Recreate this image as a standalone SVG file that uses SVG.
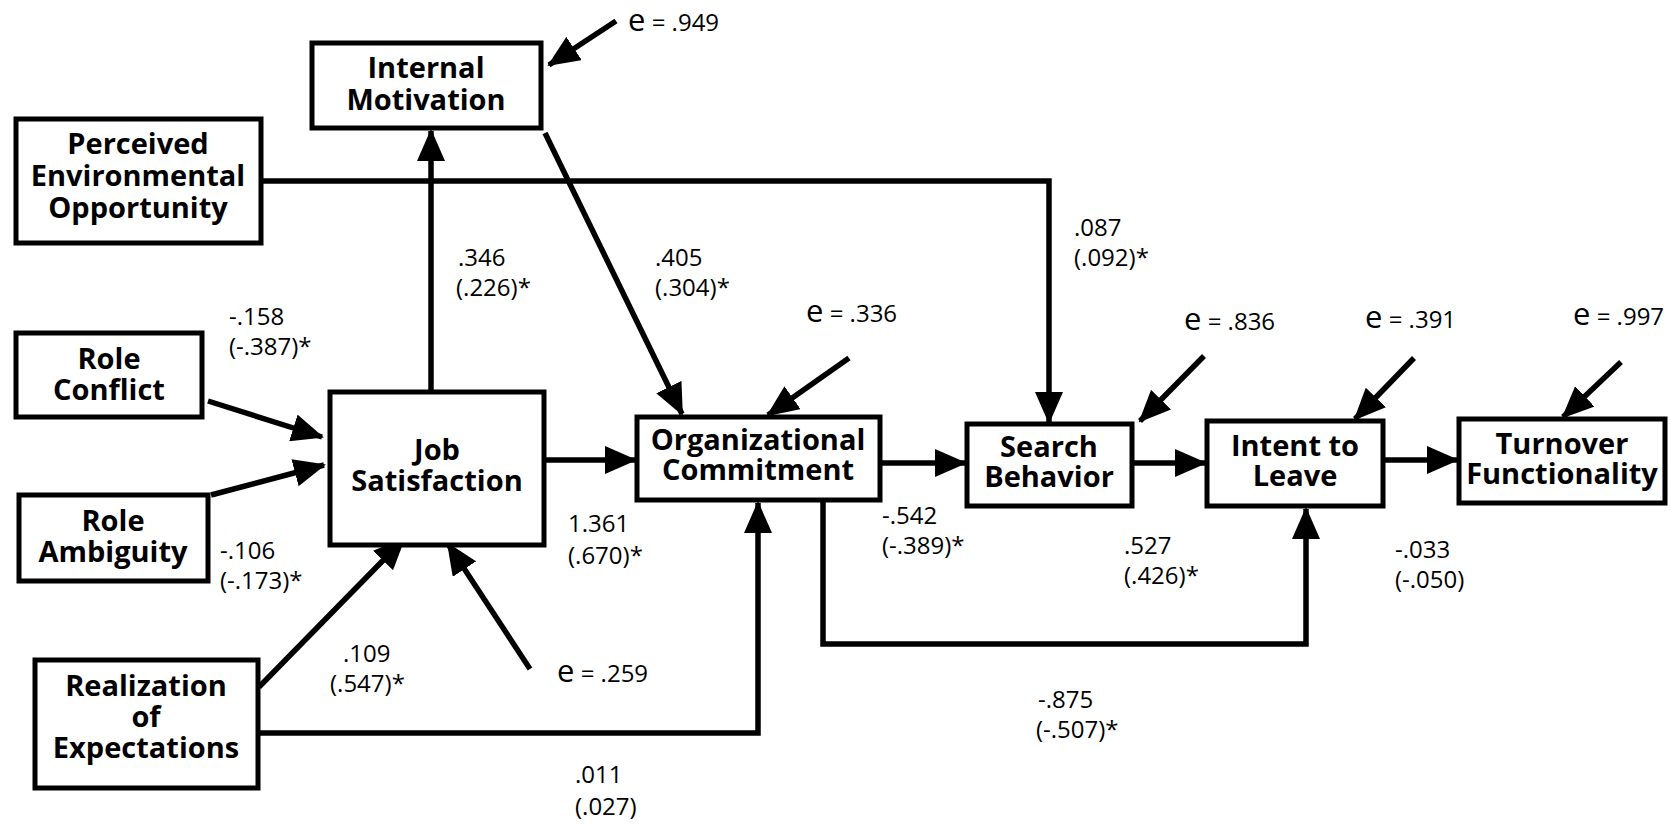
<svg xmlns="http://www.w3.org/2000/svg" width="1670" height="826" viewBox="0 0 1670 826">
<style>
.box{fill:#fff;stroke:#000;stroke-width:5}
.nt{font-family:"Open Sans","Noto Sans",sans-serif;font-weight:bold;font-size:29px;text-anchor:middle;fill:#000}
.lb{font-family:"Open Sans","Noto Sans",sans-serif;font-size:24px;fill:#000}
.eb{font-size:31px}
.cn{fill:none;stroke:#000;stroke-width:5.5;marker-end:url(#ah)}
</style>
<defs>
<marker id="ah" markerUnits="userSpaceOnUse" markerWidth="32" markerHeight="28" refX="30" refY="14" orient="auto">
<path d="M0,0 L32,14 L0,28 z" fill="#000"/>
</marker>
</defs>
<rect width="1670" height="826" fill="#fff"/>
<g id="connectors">
<path class="cn" d="M261,181 H1049 V422"/>
<path class="cn" d="M431,392 V131"/>
<path class="cn" d="M545,133 L682,414"/>
<path class="cn" d="M616,21 L549,65"/>
<path class="cn" d="M208,401 L322,437"/>
<path class="cn" d="M211,495 L324,465"/>
<path class="cn" d="M259,687 L404,539"/>
<path class="cn" d="M530,669 L448,544"/>
<path class="cn" d="M544,460 L635,460"/>
<path class="cn" d="M258,733 H758 V503"/>
<path class="cn" d="M880,463 L965,463"/>
<path class="cn" d="M1132,463 L1205,463"/>
<path class="cn" d="M1383,460 L1457,460"/>
<path class="cn" d="M823,500 V644 H1306 V509"/>
<path class="cn" d="M849,358 L768,415"/>
<path class="cn" d="M1204,356 L1140,421"/>
<path class="cn" d="M1414,358 L1355,419"/>
<path class="cn" d="M1621,362 L1563,417"/>
</g>
<g id="internal-motivation"><rect class="box" x="312" y="43" width="229" height="85"/><text class="nt"><tspan x="426" y="78">Internal</tspan><tspan x="426" y="110">Motivation</tspan></text></g>
<g id="perceived-env"><rect class="box" x="16" y="119" width="245" height="124"/><text class="nt"><tspan x="138" y="154">Perceived</tspan><tspan x="138" y="186">Environmental</tspan><tspan x="138" y="218">Opportunity</tspan></text></g>
<g id="role-conflict"><rect class="box" x="16" y="333" width="186" height="84"/><text class="nt"><tspan x="109" y="369">Role</tspan><tspan x="109" y="400">Conflict</tspan></text></g>
<g id="role-ambiguity"><rect class="box" x="19" y="495" width="189" height="86"/><text class="nt"><tspan x="113" y="531">Role</tspan><tspan x="113" y="562">Ambiguity</tspan></text></g>
<g id="realization"><rect class="box" x="35" y="660" width="223" height="128"/><text class="nt"><tspan x="146" y="696">Realization</tspan><tspan x="146" y="727">of</tspan><tspan x="146" y="758">Expectations</tspan></text></g>
<g id="job-satisfaction"><rect class="box" x="330" y="392" width="214" height="153"/><text class="nt"><tspan x="437" y="460">Job</tspan><tspan x="437" y="491">Satisfaction</tspan></text></g>
<g id="org-commitment"><rect class="box" x="637" y="417" width="243" height="83"/><text class="nt"><tspan x="758" y="450">Organizational</tspan><tspan x="758" y="480">Commitment</tspan></text></g>
<g id="search-behavior"><rect class="box" x="967" y="424" width="165" height="82"/><text class="nt"><tspan x="1049" y="457">Search</tspan><tspan x="1049" y="487">Behavior</tspan></text></g>
<g id="intent-to-leave"><rect class="box" x="1207" y="421" width="176" height="85"/><text class="nt"><tspan x="1295" y="456">Intent to</tspan><tspan x="1295" y="486">Leave</tspan></text></g>
<g id="turnover"><rect class="box" x="1459" y="419" width="206" height="84"/><text class="nt"><tspan x="1562" y="454">Turnover</tspan><tspan x="1562" y="484">Functionality</tspan></text></g>
<g id="labels">
<text class="lb" x="628" y="31"><tspan class="eb">e</tspan> = .949</text>
<text class="lb"><tspan x="458" y="266">.346</tspan><tspan x="456" y="296">(.226)*</tspan></text>
<text class="lb"><tspan x="655" y="266">.405</tspan><tspan x="655" y="296">(.304)*</tspan></text>
<text class="lb"><tspan x="1074" y="236">.087</tspan><tspan x="1074" y="266">(.092)*</tspan></text>
<text class="lb"><tspan x="229" y="325">-.158</tspan><tspan x="229" y="355">(-.387)*</tspan></text>
<text class="lb" x="806" y="322"><tspan class="eb">e</tspan> = .336</text>
<text class="lb" x="1184" y="330"><tspan class="eb">e</tspan> = .836</text>
<text class="lb" x="1365" y="328"><tspan class="eb">e</tspan> = .391</text>
<text class="lb" x="1573" y="325"><tspan class="eb">e</tspan> = .997</text>
<text class="lb"><tspan x="568" y="532">1.361</tspan><tspan x="568" y="564">(.670)*</tspan></text>
<text class="lb"><tspan x="220" y="559">-.106</tspan><tspan x="220" y="589">(-.173)*</tspan></text>
<text class="lb"><tspan x="882" y="524">-.542</tspan><tspan x="882" y="554">(-.389)*</tspan></text>
<text class="lb"><tspan x="1124" y="554">.527</tspan><tspan x="1124" y="584">(.426)*</tspan></text>
<text class="lb"><tspan x="1395" y="558">-.033</tspan><tspan x="1395" y="588">(-.050)</tspan></text>
<text class="lb"><tspan x="343" y="662">.109</tspan><tspan x="330" y="692">(.547)*</tspan></text>
<text class="lb" x="557" y="682"><tspan class="eb">e</tspan> = .259</text>
<text class="lb"><tspan x="1038" y="708">-.875</tspan><tspan x="1036" y="738">(-.507)*</tspan></text>
<text class="lb"><tspan x="575" y="783">.011</tspan><tspan x="575" y="815">(.027)</tspan></text>
</g>
</svg>
